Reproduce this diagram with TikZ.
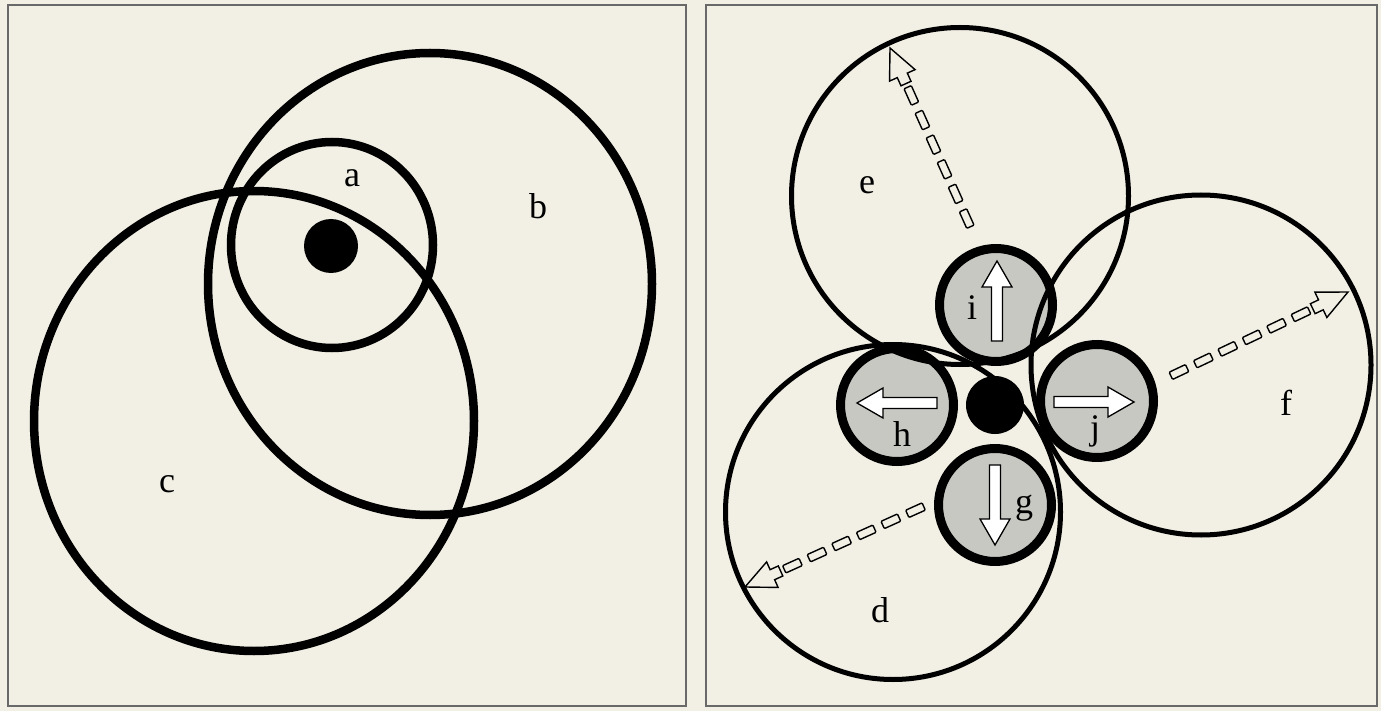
\documentclass[tikz,border=0pt]{standalone}
\usepackage{fontspec}
\setmainfont{Liberation Serif}
\usetikzlibrary{shapes.geometric,decorations.markings}
\definecolor{bg}{RGB}{242,240,228}
\definecolor{padgray}{RGB}{200,200,195}
\definecolor{framegray}{RGB}{105,105,105}
\begin{document}
\begin{tikzpicture}[x=1pt,y=-1pt,
  ring/.style={draw=black, line width=8.5pt, ellipse, inner sep=0pt},
  petal/.style={draw=black, line width=5pt, circle, inner sep=0pt},
  pad/.style={draw=black, line width=9pt, circle, fill=padgray, inner sep=0pt, minimum size=113pt},
  hub/.style={circle, fill=black, inner sep=0pt},
  lbl/.style={font=\fontsize{36}{40}\selectfont, inner sep=0pt},
  frame/.style={draw=framegray, line width=1.5pt},
  blockarr/.pic={\draw[line width=1.3pt, fill=white] (-54pt,-5.5pt) -- (0pt,-5.5pt) -- (0pt,-15pt) -- (26pt,0pt) -- (0pt,15pt) -- (0pt,5.5pt) -- (-54pt,5.5pt) -- cycle;},
  hollowdash/.style={postaction={decorate}, decoration={markings,
     mark=at position 0.01pt with {\draw[line width=1.4pt] (0pt,0pt) -- (30pt,-14pt) -- (30pt,-5.5pt) -- (39pt,-5.5pt) -- (39pt,5.5pt) -- (30pt,5.5pt) -- (30pt,14pt) -- cycle;},
     mark=between positions 52pt and -12pt step 27pt with {\draw[line width=1.4pt, rounded corners=1pt] (-9pt,-4pt) rectangle (9pt,4pt);}}}
]
\fill[bg] (0,0) rectangle (1381,711);
\useasboundingbox (0,0) rectangle (1381,711);
\draw[frame] (8,5) rectangle (686,706);
\draw[frame] (706,5) rectangle (1377,706);

% left panel
\node[ring, minimum width=444pt, minimum height=462pt] (b) at (430,284) {};
\node[ring, minimum width=440pt, minimum height=460pt] (c) at (254,421) {};
\node[ring, minimum width=202pt, minimum height=206pt] (a) at (332,245) {};
\node[hub, minimum size=54pt] (core1) at (331,246) {};
\node[lbl] (la) at (352,178) {a};
\node[lbl] (lb) at (538,206) {b};
\node[lbl] (lc) at (167,484) {c};

% right panel
\node[pad] (i) at (996,305) {};
\node[pad] (j) at (1097,401) {};
\node[pad] (h) at (897,405) {};
\node[pad] (g) at (995,505) {};
\node[hub, minimum size=58pt] (core2) at (995,405) {};
\pic[rotate=90] at (997,287) {blockarr};
\pic[rotate=180] at (883,403) {blockarr};
\pic[rotate=0] at (1108,402) {blockarr};
\pic[rotate=270] at (995,519) {blockarr};

\node[petal, minimum size=337pt] (e) at (960,196) {};
\node[petal, minimum size=340pt] (f) at (1201,365) {};
\node[petal, minimum size=335pt] (d) at (893,512) {};

\coordinate (eTip) at (890,48);
\coordinate (fTip) at (1348,292);
\coordinate (dTip) at (745,587);
\path[hollowdash] (eTip) -- (i.106);
\path[hollowdash] (fTip) -- (j.17);
\path[hollowdash] (dTip) -- (g.177);

\node[lbl] (le) at (867,185) {e};
\node[lbl] (ld) at (880,610) {d};
\node[lbl] (lf) at (1286,403) {f};
\node[lbl] (li) at (972,308) {i};
\node[lbl] (lh) at (902,434) {h};
\node[lbl] (lj) at (1095,431) {j};
\node[lbl] (lg) at (1024,508) {g};
\end{tikzpicture}
\end{document}
